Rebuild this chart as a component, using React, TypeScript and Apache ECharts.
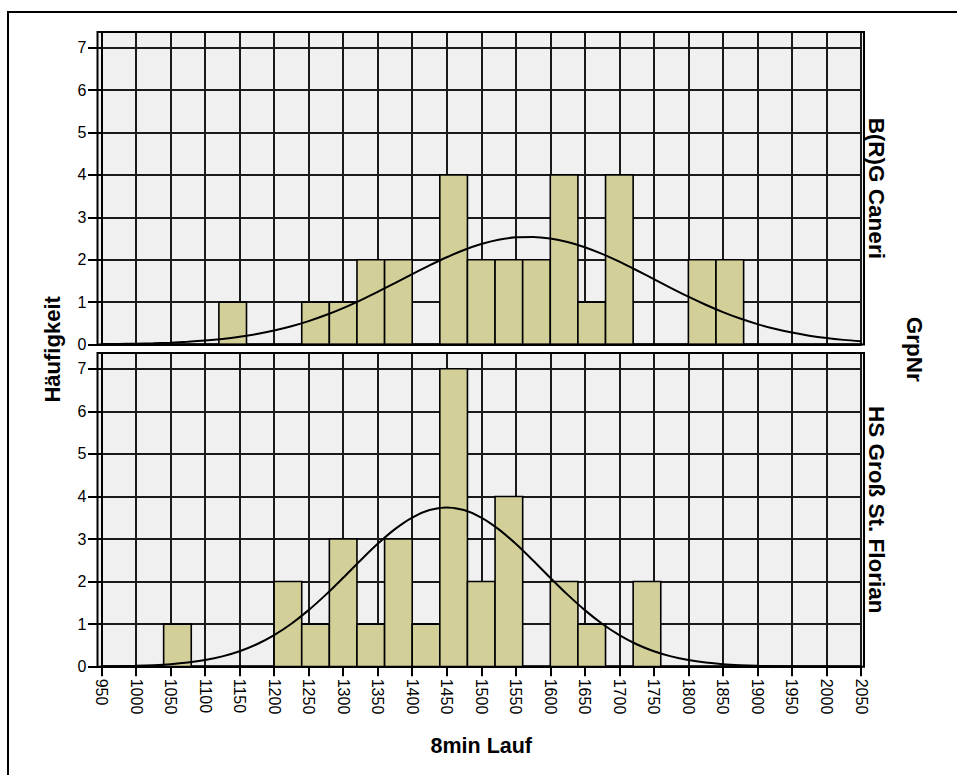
import React, { useEffect, useRef } from "react";
import * as echarts from "echarts";

// Histogram of the 8-minute run, split by group (GrpNr)
const BIN_WIDTH = 40;

const groupNames = ["B(R)G Caneri", "HS Groß St. Florian"];

const binStartsTop = [1120, 1240, 1280, 1320, 1360, 1440, 1480, 1520, 1560, 1600, 1640, 1680, 1800, 1840];
const countsTop = [1, 1, 1, 2, 2, 4, 2, 2, 2, 4, 1, 4, 2, 2];

const binStartsBottom = [1040, 1200, 1240, 1280, 1320, 1360, 1400, 1440, 1480, 1520, 1600, 1640, 1720];
const countsBottom = [1, 2, 1, 3, 1, 3, 1, 7, 2, 4, 2, 1, 2];

// Normal curve overlay, sampled every 25 units from 950 to 2050
const curveX = [
  950, 975, 1000, 1025, 1050, 1075, 1100, 1125, 1150, 1175, 1200, 1225, 1250, 1275, 1300, 1325,
  1350, 1375, 1400, 1425, 1450, 1475, 1500, 1525, 1550, 1575, 1600, 1625, 1650, 1675, 1700, 1725,
  1750, 1775, 1800, 1825, 1850, 1875, 1900, 1925, 1950, 1975, 2000, 2025, 2050,
];
const curveTop = [
  0.008, 0.013, 0.02, 0.03, 0.044, 0.065, 0.093, 0.131, 0.182, 0.247, 0.329, 0.43, 0.552, 0.695,
  0.859, 1.042, 1.239, 1.448, 1.659, 1.865, 2.058, 2.229, 2.369, 2.47, 2.528, 2.538, 2.501, 2.418,
  2.295, 2.137, 1.953, 1.751, 1.541, 1.33, 1.127, 0.937, 0.765, 0.612, 0.481, 0.371, 0.281, 0.209,
  0.152, 0.109, 0.076,
];
const curveBottom = [
  0.006, 0.011, 0.02, 0.035, 0.059, 0.098, 0.157, 0.243, 0.364, 0.528, 0.742, 1.009, 1.329, 1.693,
  2.089, 2.496, 2.887, 3.233, 3.505, 3.68, 3.74, 3.68, 3.505, 3.233, 2.887, 2.496, 2.089, 1.693,
  1.329, 1.009, 0.742, 0.528, 0.364, 0.243, 0.157, 0.098, 0.059, 0.035, 0.02, 0.011, 0.006, 0.003,
  0.002, 0.001, 0.0,
];

const yTickValues = [0, 1, 2, 3, 4, 5, 6, 7];

const X_MIN = 950;
const X_MAX = 2050;
const Y_MAX = 7.37;

// layout
const W = 957;
const H = 775;
const GRID_LEFT = 101.5;
const GRID_RIGHT_X = 861;
const PANELS = [
  { top: 32, bottom: 344.5 },
  { top: 353, bottom: 666.7 },
];
const FRAME_PAD = 4;

const FONT = "'Liberation Sans', Arial, Helvetica, sans-serif";
const BAR_FILL = "#d3cf99";
const GRID_COLOR = "#1a1a1a";
const TICK_FONT_SIZE = 16;

function histData(starts: number[], counts: number[]) {
  return starts.map((s, i) => [s, s + BIN_WIDTH, counts[i]]);
}

export default function App() {
  const ref = useRef<HTMLDivElement>(null);

  useEffect(() => {
    if (!ref.current) return;
    const chart = echarts.init(ref.current, null, { renderer: "svg" });

    const grids = PANELS.map((p) => ({
      left: GRID_LEFT,
      width: GRID_RIGHT_X - GRID_LEFT,
      top: p.top,
      height: p.bottom - p.top,
      containLabel: false,
    }));

    const xAxes = PANELS.map((_, i) => ({
      type: "value",
      gridIndex: i,
      min: X_MIN,
      max: X_MAX,
      interval: 50,
      axisLine: { show: true, onZero: false, lineStyle: { color: "#000", width: 2.5 } },
      axisTick:
        i === 1
          ? { show: true, length: 9.5, lineStyle: { color: "#000", width: 2 } }
          : { show: false },
      axisLabel:
        i === 1
          ? {
              show: true,
              rotate: -90,
              margin: 12,
              fontSize: TICK_FONT_SIZE,
              color: "#000",
              fontFamily: FONT,
              formatter: (v: number) => String(v),
            }
          : { show: false },
      splitLine: { show: true, lineStyle: { color: GRID_COLOR, width: 2 } },
    }));

    const yAxes = PANELS.map((_, i) => ({
      type: "value",
      gridIndex: i,
      min: 0,
      max: Y_MAX,
      interval: 1,
      axisLine: { show: true, lineStyle: { color: "#000", width: 2 } },
      axisTick: {
        show: true,
        length: 13.5,
        customValues: yTickValues,
        lineStyle: { color: "#000", width: 2 },
      },
      axisLabel: {
        show: true,
        margin: 15,
        fontSize: TICK_FONT_SIZE,
        color: "#000",
        fontFamily: FONT,
        customValues: yTickValues,
        formatter: (v: number) => (Number.isInteger(v) ? String(v) : ""),
      },
      splitLine: { show: true, lineStyle: { color: GRID_COLOR, width: 2 } },
    }));

    const barSeries = [
      histData(binStartsTop, countsTop),
      histData(binStartsBottom, countsBottom),
    ].map((data, i) => ({
      type: "custom",
      xAxisIndex: i,
      yAxisIndex: i,
      z: 3,
      encode: { x: [0, 1], y: 2 },
      data,
      renderItem: (_params: any, api: any) => {
        const p0 = api.coord([api.value(0), api.value(2)]);
        const p1 = api.coord([api.value(1), 0]);
        return {
          type: "rect",
          shape: { x: p0[0], y: p0[1], width: p1[0] - p0[0], height: p1[1] - p0[1] },
          style: { fill: BAR_FILL, stroke: "#000", lineWidth: 1.6 },
        };
      },
    }));

    const curveSeries = [curveTop, curveBottom].map((vals, i) => ({
      type: "line",
      xAxisIndex: i,
      yAxisIndex: i,
      z: 5,
      symbol: "none",
      smooth: 0.3,
      data: curveX.map((x, k) => [x, vals[k]]),
      lineStyle: { color: "#000", width: 2 },
    }));

    const frameShape = (p: { top: number; bottom: number }) => ({
      x: GRID_LEFT - FRAME_PAD,
      y: p.top,
      width: GRID_RIGHT_X - GRID_LEFT + 2 * FRAME_PAD - 1,
      height: p.bottom - p.top,
    });

    const frameBackgrounds = PANELS.map((p) => ({
      type: "rect",
      z: -10,
      shape: frameShape(p),
      style: { fill: "#f0f0f0" },
      silent: true,
    }));

    const frameBorders = PANELS.map((p) => ({
      type: "rect",
      z: 100,
      shape: frameShape(p),
      style: { fill: "transparent", stroke: "#000", lineWidth: 2 },
      silent: true,
    }));

    const midAll = (PANELS[0].top + PANELS[1].bottom) / 2;
    const titleStyle = { fontFamily: FONT, fontSize: 21.5, fontWeight: "bold", fill: "#000" };
    const groupStyle = { ...titleStyle, fontSize: 22.5 };

    chart.setOption({
      animation: false,
      backgroundColor: "#fff",
      grid: grids,
      xAxis: xAxes,
      yAxis: yAxes,
      series: [...barSeries, ...curveSeries],
      graphic: [
        {
          type: "rect",
          z: 100,
          shape: { x: 8, y: 12, width: 1000, height: 1000 },
          style: { fill: "transparent", stroke: "#000", lineWidth: 2 },
          silent: true,
        },
        ...frameBackgrounds,
        ...frameBorders,
        {
          type: "text",
          x: 52,
          y: midAll,
          rotation: Math.PI / 2,
          style: { ...titleStyle, fontSize: 22, text: "Häufigkeit", align: "center", verticalAlign: "middle" },
        },
        {
          type: "text",
          x: (GRID_LEFT + GRID_RIGHT_X) / 2,
          y: 746,
          style: { ...titleStyle, text: "8min Lauf", align: "center", verticalAlign: "middle" },
        },
        ...PANELS.map((p, i) => ({
          type: "text",
          x: 876,
          y: (p.top + p.bottom) / 2,
          rotation: -Math.PI / 2,
          style: { ...groupStyle, text: groupNames[i], align: "center", verticalAlign: "middle" },
        })),
        {
          type: "text",
          x: 914,
          y: midAll,
          rotation: -Math.PI / 2,
          style: { ...groupStyle, text: "GrpNr", align: "center", verticalAlign: "middle" },
        },
      ],
    });

    return () => chart.dispose();
  }, []);

  return (
    <div
      ref={ref}
      style={{ position: "fixed", left: 0, top: 0, width: W, height: H, background: "#fff" }}
    />
  );
}
